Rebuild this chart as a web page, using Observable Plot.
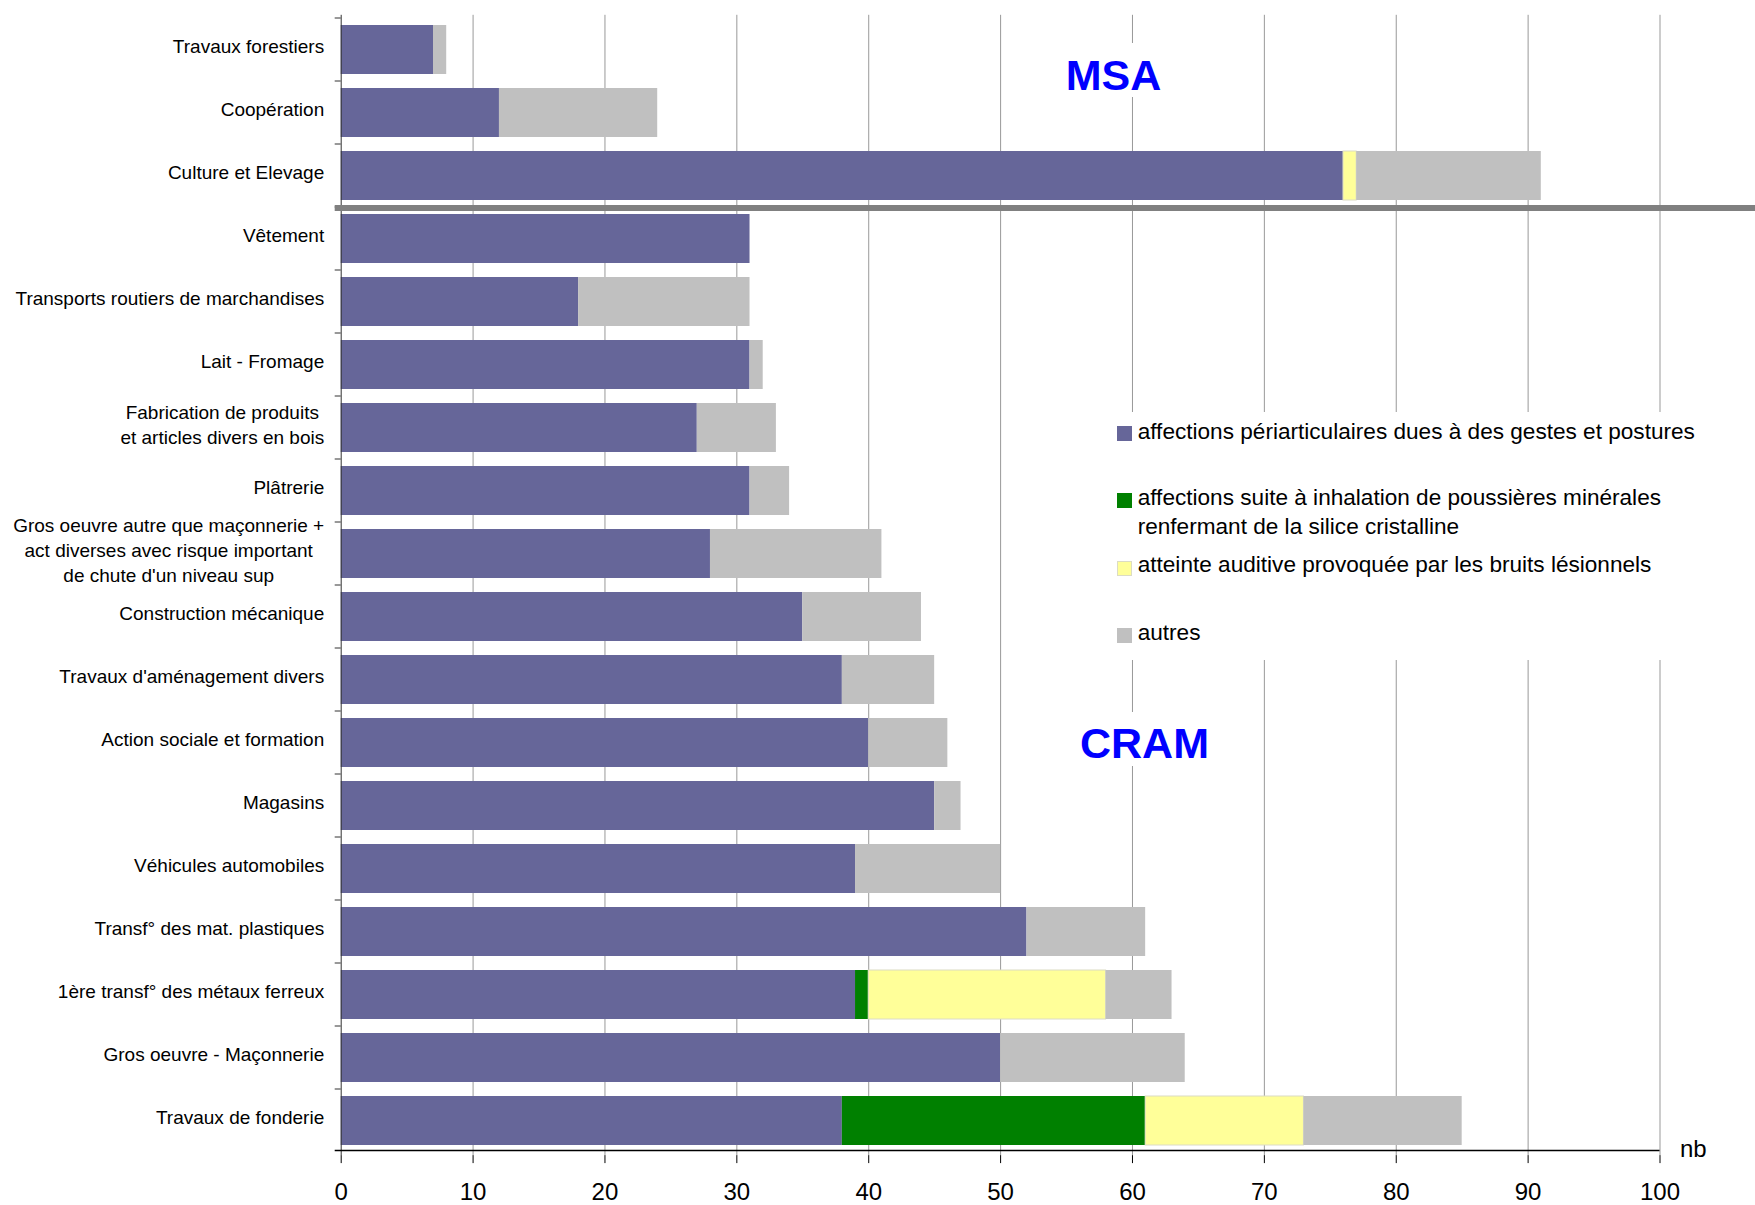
<!DOCTYPE html>
<html><head><meta charset="utf-8">
<script src="https://cdn.jsdelivr.net/npm/d3@7"></script>
<script src="https://cdn.jsdelivr.net/npm/@observablehq/plot@0.6"></script>
<style>
html,body{margin:0;padding:0;background:#fff;}
#wrap{position:relative;width:1755px;height:1205px;font-family:"Liberation Sans",Arial,sans-serif;overflow:hidden;}
#wrap svg{position:absolute;left:0;top:0;}
.ann{position:absolute;background:#fff;color:#0000ff;font-weight:bold;white-space:nowrap;box-sizing:border-box;height:54px;padding-left:6px;padding-right:6px;transform:translateX(-50%);}
#legend{position:absolute;left:1105px;top:412px;width:650px;height:248px;background:#fff;}
.li{position:absolute;left:1137.7px;font-size:22.6px;line-height:29px;color:#000;white-space:nowrap;}
.sw{position:absolute;left:1116.5px;width:15px;height:15px;box-sizing:border-box;}
#nb{position:absolute;left:1680px;top:1136.7px;font-size:24px;line-height:24px;color:#000;}
</style></head><body><div id="wrap"></div>
<script>
// ---- data ----
const categories = [
  "Travaux forestiers",
  "Coopération",
  "Culture et Elevage",
  "Vêtement",
  "Transports routiers de marchandises",
  "Lait - Fromage",
  "Fabrication de produits\net articles divers en bois",
  "Plâtrerie",
  "Gros oeuvre autre que maçonnerie +\nact diverses avec risque important\nde chute d'un niveau sup",
  "Construction mécanique",
  "Travaux d'aménagement divers",
  "Action sociale et formation",
  "Magasins",
  "Véhicules automobiles",
  "Transf° des mat. plastiques",
  "1ère transf° des métaux ferreux",
  "Gros oeuvre - Maçonnerie",
  "Travaux de fonderie"
];
const seriesNames = [
  "affections périarticulaires dues à des gestes et postures",
  "affections suite à inhalation de poussières minérales renfermant de la silice cristalline",
  "atteinte auditive provoquée par les bruits lésionnels",
  "autres"
];
const seriesColors = ["#666699", "#008000", "#ffff99", "#c0c0c0"];
const periarticulaires = [7, 12, 76, 31, 18, 31, 27, 31, 28, 35, 38, 40, 45, 39, 52, 39, 50, 38];
const silice           = [0, 0, 0, 0, 0, 0, 0, 0, 0, 0, 0, 0, 0, 0, 0, 1, 0, 23];
const auditive         = [0, 0, 1, 0, 0, 0, 0, 0, 0, 0, 0, 0, 0, 0, 0, 18, 0, 12];
const autres           = [1, 12, 14, 0, 13, 1, 6, 3, 13, 9, 7, 6, 2, 11, 9, 5, 14, 12];
const xTicks = [0, 10, 20, 30, 40, 50, 60, 70, 80, 90, 100];
const legendLines = [
  ["affections périarticulaires dues à des gestes et postures"],
  ["affections suite à inhalation de poussières minérales", "renfermant de la silice cristalline"],
  ["atteinte auditive provoquée par les bruits lésionnels"],
  ["autres"]
];

// ---- build table ----
const seriesValues = [periarticulaires, silice, auditive, autres];
const rows = [];
seriesNames.forEach((s, si) => categories.forEach((c, ci) => {
  const v = seriesValues[si][ci];
  if (v > 0) rows.push({cat: c, series: s, value: v});
}));
const gridTicks = xTicks.filter(t => t > 0);

const ctx = document.createElement("canvas").getContext("2d");
ctx.font = "19px 'Liberation Sans'";
const labelMarks = categories.map(c => {
  const w = d3.max(c.split("\n"), l => ctx.measureText(l).width);
  return Plot.text([c], {
    y: d => d, text: d => d, frameAnchor: "left", textAnchor: "middle",
    dx: -(17 + w / 2), dy: -5, fontSize: 19, lineHeight: 1.32, fill: "black"
  });
});

const chart = Plot.plot({
  width: 1755, height: 1205,
  marginTop: 14.8, marginBottom: 49.9, marginLeft: 340.7, marginRight: 95.5,
  style: {fontFamily: "'Liberation Sans', Arial, sans-serif", fontSize: "24px", color: "black", background: "white", overflow: "visible"},
  x: {domain: [0, 100], ticks: xTicks, tickSize: 8, tickPadding: 19, tickFormat: d => String(d), label: null},
  y: {domain: categories, axis: null, paddingInner: 0.225, paddingOuter: 0.1125},
  color: {domain: seriesNames, range: seriesColors},
  marks: [
    Plot.ruleX(gridTicks, {stroke: "#999999", strokeWidth: 1}),
    Plot.barX(rows, {
      x: "value", y: "cat", fill: "series",
      stroke: {value: d => d.series === seriesNames[2] ? "#dcdcc4" : "none", scale: null},
      strokeWidth: 1
    }),
    Plot.ruleX([0], {stroke: "#333333", strokeWidth: 1}),
    ...labelMarks
  ]
});

const wrap = document.getElementById("wrap");
wrap.appendChild(chart);

// axis decorations from the library scales
const ys = chart.scale("y"), xs = chart.scale("x");
const off = (ys.step - ys.bandwidth) / 2;
const boundaries = categories.map(c => ys.apply(c) - off)
  .concat([ys.apply(categories[categories.length - 1]) + ys.bandwidth + off]);
const x0 = xs.apply(0), x100 = xs.apply(100);
const g = d3.select(chart).append("g");
g.selectAll("line.yt").data(boundaries.slice(0, -1)).join("line")
  .attr("x1", x0 - 6).attr("x2", x0).attr("y1", d => d).attr("y2", d => d)
  .attr("stroke", "#333").attr("stroke-width", 1);
const yb = boundaries[boundaries.length - 1] - 1.5;
g.append("line").attr("x1", x0 - 6).attr("x2", x100).attr("y1", yb).attr("y2", yb)
  .attr("stroke", "#000").attr("stroke-width", 1.3);
const ySep = boundaries[3];
g.append("rect").attr("x", x0 - 6).attr("width", 1755 - (x0 - 6))
  .attr("y", ySep - 2).attr("height", 6).attr("fill", "#808080");

// annotations
function addDiv(cls, html, css) {
  const d = document.createElement("div");
  d.className = cls; d.innerHTML = html;
  Object.assign(d.style, css);
  wrap.appendChild(d);
  return d;
}
addDiv("ann", "MSA", {left: "1113.5px", top: "42.7px", paddingTop: "11px", fontSize: "43px", lineHeight: "43px"});
addDiv("ann", "CRAM", {left: "1144.5px", top: "712px", paddingTop: "10px", fontSize: "43px", lineHeight: "43px"});

// legend
addDiv("", "", {}).id = "legend";
const legTextTops = [416.5, 483, 550, 618];
const legSwTops = [426, 493, 560.5, 628];
seriesNames.forEach((s, i) => {
  addDiv("li", legendLines[i].join("<br>"), {top: legTextTops[i] + "px"});
  addDiv("sw", "", {top: legSwTops[i] + "px", background: seriesColors[i],
    border: i === 2 ? "1px solid #dcdcc4" : "none"});
});
addDiv("", "nb", {}).id = "nb";
</script>
</body></html>
